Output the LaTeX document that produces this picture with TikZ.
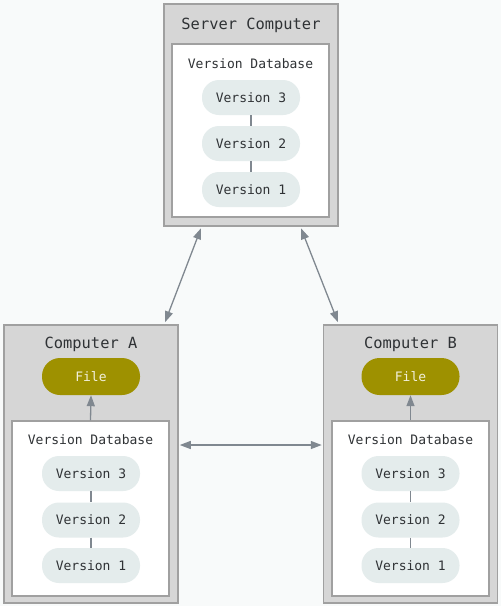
\documentclass[tikz,border=0pt]{standalone}
\usepackage{fontspec}
\setmonofont{DejaVu Sans Mono}
\usetikzlibrary{arrows.meta}
\definecolor{bgc}{HTML}{F8FAFA}
\definecolor{outerc}{HTML}{D6D6D6}
\definecolor{borderc}{HTML}{A0A0A0}
\definecolor{pillc}{HTML}{E4ECEC}
\definecolor{filec}{HTML}{9E9100}
\definecolor{arrowc}{HTML}{808890}
\definecolor{textc}{HTML}{2F3235}
\definecolor{filetext}{HTML}{F2F0DC}
\begin{document}
\begin{tikzpicture}[x=1pt,y=-1pt,
  outerbox/.style={draw=borderc,fill=outerc,line width=1.5pt,minimum width=174pt,inner sep=0pt},
  innerbox/.style={draw=borderc,fill=white,line width=1.2pt,minimum width=157pt,inner sep=0pt},
  titletext/.style={font=\ttfamily\fontsize{15.4}{17}\selectfont,text=textc,inner sep=0pt},
  dbtext/.style={font=\ttfamily\fontsize{13}{15}\selectfont,text=textc,inner sep=0pt},
  pill/.style={fill=pillc,rounded corners=17pt,minimum width=98pt,minimum height=35pt,inner sep=0pt,font=\ttfamily\fontsize{13}{15}\selectfont,text=textc},
  filepill/.style={fill=filec,rounded corners=18pt,minimum width=98pt,minimum height=37pt,inner sep=0pt,font=\ttfamily\fontsize{13}{15}\selectfont,text=filetext},
  link/.style={draw=arrowc,line width=1.2pt},
  conn/.style={draw=arrowc,line width=1.3pt,{Triangle[length=11pt,width=8pt]}-{Triangle[length=11pt,width=8pt]}},
  upconn/.style={draw=arrowc,line width=1.3pt,-{Triangle[length=11pt,width=8pt]}}
]
\useasboundingbox[fill=bgc] (0,0) rectangle (501,606);

% Server
\node[outerbox,minimum height=222pt] (srv) at (251,115) {};
\node[innerbox,minimum height=173pt] (srvi) at (250.5,130.5) {};
\node[titletext] (srvt) at (251,25.5) {Server Computer};
\node[dbtext] (srvd) at (250.5,64) {Version Database};
\node[pill] (s3) at (251,97.5) {Version 3};
\node[pill] (s2) at (251,143.5) {Version 2};
\node[pill] (s1) at (251,189.5) {Version 1};
\draw[link] (s3.south) -- (s2.north);
\draw[link] (s2.south) -- (s1.north);

% Computer A
\node[outerbox,minimum height=278pt] (a) at (91,464) {};
\node[innerbox,minimum height=175pt] (ai) at (90.5,508.5) {};
\node[titletext] (at) at (91,344.5) {Computer A};
\node[filepill] (af) at (91,376.5) {File};
\node[dbtext] (ad) at (90.5,440) {Version Database};
\node[pill] (a3) at (91,473.5) {Version 3};
\node[pill] (a2) at (91,520) {Version 2};
\node[pill] (a1) at (91,565.5) {Version 1};
\draw[link] (a3.south) -- (a2.north);
\draw[link] (a2.south) -- (a1.north);
\draw[upconn] (ai.north) -- (af.south);

% Computer B
\node[outerbox,minimum height=278pt] (b) at (410.5,464) {};
\node[innerbox,minimum height=175pt] (bi) at (410.5,508.5) {};
\node[titletext] (bt) at (410.5,344.5) {Computer B};
\node[filepill] (bf) at (410.5,376.5) {File};
\node[dbtext] (bd) at (410.5,440) {Version Database};
\node[pill] (b3) at (410.5,473.5) {Version 3};
\node[pill] (b2) at (410.5,520) {Version 2};
\node[pill] (b1) at (410.5,565.5) {Version 1};
\draw[link] (b3.south) -- (b2.north);
\draw[link] (b2.south) -- (b1.north);
\draw[upconn] (bi.north) -- (bf.south);

% Connectors
\draw[conn] ([xshift=-50pt,yshift=-1.5pt]srv.south) -- ([xshift=74pt,yshift=2pt]a.north);
\draw[conn] ([xshift=50pt,yshift=-1.5pt]srv.south) -- ([xshift=-72.5pt,yshift=2pt]b.north);
\draw[conn] ([xshift=1pt]a.east |- 0,445) -- ([xshift=-1pt]b.west |- 0,445);
\end{tikzpicture}
\end{document}
